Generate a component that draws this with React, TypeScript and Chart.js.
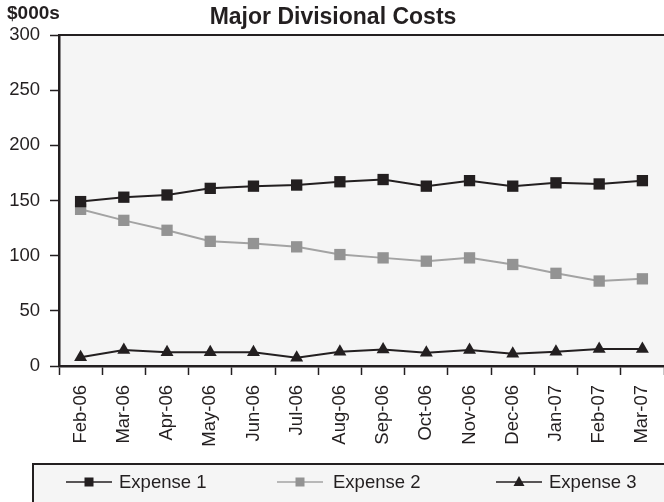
import React, { useEffect, useRef } from "react";
import { Chart, registerables } from "chart.js";

Chart.register(...registerables);

const categories = ["Feb-06", "Mar-06", "Apr-06", "May-06", "Jun-06", "Jul-06", "Aug-06", "Sep-06", "Oct-06", "Nov-06", "Dec-06", "Jan-07", "Feb-07", "Mar-07"];
const expense1 = [149, 153, 155, 161, 163, 164, 167, 169, 163, 168, 163, 166, 165, 168];
const expense2 = [142, 132, 123, 113, 111, 108, 101, 98, 95, 98, 92, 84, 77, 79];
const expense3 = [8, 14.5, 12.5, 12.5, 12.5, 7.5, 13, 15, 12, 14.5, 11, 13, 15.5, 15.5];
const seriesNames = ["Expense 1", "Expense 2", "Expense 3"];
const yTicks = [0, 50, 100, 150, 200, 250, 300];
const titleText = "Major Divisional Costs";
const unitText = "$000s";

const FONT = "'Liberation Sans', Arial, Helvetica, sans-serif";
const DARK = "#231f20";
const GRAY_LINE = "#a3a3a3";
const GRAY_MARK = "#939393";
const PLOT_BG = "#f5f5f5";

const decorPlugin = {
  id: "decor",
  beforeDraw(chart: any) {
    const { ctx, chartArea } = chart;
    ctx.save();
    ctx.fillStyle = "#ffffff";
    ctx.fillRect(0, 0, chart.width, chart.height);
    ctx.fillStyle = PLOT_BG;
    ctx.fillRect(chartArea.left, chartArea.top, chartArea.right - chartArea.left, chartArea.bottom - chartArea.top);
    ctx.restore();
  },
  afterDraw(chart: any) {
    const { ctx, chartArea } = chart;
    ctx.save();
    // top border of plot
    ctx.strokeStyle = DARK;
    ctx.lineWidth = 2;
    ctx.beginPath();
    ctx.moveTo(chartArea.left, chartArea.top);
    ctx.lineTo(chartArea.right, chartArea.top);
    ctx.stroke();

    // title
    ctx.fillStyle = DARK;
    ctx.textBaseline = "middle";
    ctx.textAlign = "center";
    ctx.font = `bold 23px ${FONT}`;
    ctx.fillText(titleText, 333, 18);
    // unit label
    ctx.textAlign = "left";
    ctx.font = `bold 19px ${FONT}`;
    ctx.fillText(unitText, 7, 14);

    // legend box
    ctx.fillStyle = PLOT_BG;
    ctx.fillRect(33, 464, 700, 60);
    ctx.strokeStyle = DARK;
    ctx.lineWidth = 2;
    ctx.strokeRect(33, 464, 700, 60);

    const ly = 482;
    const items = [
      { x0: 66, x1: 112, tx: 119, color: DARK, mark: DARK, style: "rect" },
      { x0: 277, x1: 323, tx: 333, color: GRAY_LINE, mark: GRAY_MARK, style: "rect" },
      { x0: 496, x1: 542, tx: 549, color: DARK, mark: DARK, style: "triangle" },
    ];
    items.forEach((it, i) => {
      ctx.strokeStyle = it.color;
      ctx.lineWidth = 1.5;
      ctx.beginPath();
      ctx.moveTo(it.x0, ly);
      ctx.lineTo(it.x1, ly);
      ctx.stroke();
      const cx = (it.x0 + it.x1) / 2;
      ctx.fillStyle = it.mark;
      if (it.style === "rect") {
        ctx.fillRect(cx - 4.5, ly - 4.5, 9, 9);
      } else {
        ctx.beginPath();
        ctx.moveTo(cx, ly - 6);
        ctx.lineTo(cx + 5.5, ly + 4);
        ctx.lineTo(cx - 5.5, ly + 4);
        ctx.closePath();
        ctx.fill();
      }
      ctx.fillStyle = DARK;
      ctx.font = `18.5px ${FONT}`;
      ctx.textAlign = "left";
      ctx.textBaseline = "middle";
      ctx.fillText(seriesNames[i], it.tx, ly + 1);
    });
    ctx.restore();
  },
};

export default function App() {
  const canvasRef = useRef<HTMLCanvasElement | null>(null);

  useEffect(() => {
    document.body.style.margin = "0";
    const canvas = canvasRef.current;
    if (!canvas) return;
    const chart = new Chart(canvas, {
      type: "line",
      data: {
        labels: categories,
        datasets: [
          {
            label: seriesNames[0],
            data: expense1,
            borderColor: DARK,
            backgroundColor: DARK,
            borderWidth: 2,
            pointStyle: "rect",
            pointRadius: 8,
            pointBorderWidth: 0,
            pointBackgroundColor: DARK,
            tension: 0,
          },
          {
            label: seriesNames[1],
            data: expense2,
            borderColor: GRAY_LINE,
            backgroundColor: GRAY_MARK,
            borderWidth: 2,
            pointStyle: "rect",
            pointRadius: 8,
            pointBorderWidth: 0,
            pointBackgroundColor: GRAY_MARK,
            tension: 0,
          },
          {
            label: seriesNames[2],
            data: expense3,
            borderColor: DARK,
            backgroundColor: DARK,
            borderWidth: 2,
            pointStyle: "triangle",
            pointRadius: 7.5,
            pointBorderWidth: 0,
            pointBackgroundColor: DARK,
            tension: 0,
          },
        ],
      },
      options: {
        animation: false,
        responsive: false,
        devicePixelRatio: 1,
        layout: { autoPadding: false, padding: { top: 35, left: 0, right: -6, bottom: 0 } },
        plugins: {
          legend: { display: false },
          title: { display: false },
          tooltip: { enabled: false },
        },
        scales: {
          x: {
            type: "category",
            offset: true,
            grid: {
              display: true,
              offset: true,
              drawOnChartArea: false,
              drawTicks: true,
              tickLength: 9,
              tickWidth: 1.5,
              tickColor: DARK,
            },
            border: { display: true, color: DARK, width: 2.5 },
            ticks: {
              color: DARK,
              font: { family: FONT, size: 18.5 },
              minRotation: 90,
              maxRotation: 90,
              padding: 10,
              autoSkip: false,
            },
            afterFit: (s: any) => {
              s.height = 136;
              s.paddingLeft = 0;
              s.paddingRight = 0;
            },
          },
          y: {
            min: 0,
            max: 300,
            afterBuildTicks: (s: any) => {
              s.ticks = yTicks.map((v) => ({ value: v }));
            },
            grid: {
              display: true,
              drawOnChartArea: false,
              drawTicks: true,
              tickLength: 9,
              tickWidth: 1.5,
              tickColor: DARK,
            },
            border: { display: true, color: DARK, width: 2.5 },
            ticks: {
              color: DARK,
              font: { family: FONT, size: 18.5 },
              padding: 10,
            },
            afterFit: (s: any) => {
              s.width = 59;
            },
          },
        },
      },
      plugins: [decorPlugin],
    });
    return () => chart.destroy();
  }, []);

  return (
    <div style={{ position: "fixed", left: 0, top: 0, width: 664, height: 502 }}>
      <canvas ref={canvasRef} width={664} height={502} style={{ width: 664, height: 502, display: "block" }} />
    </div>
  );
}
